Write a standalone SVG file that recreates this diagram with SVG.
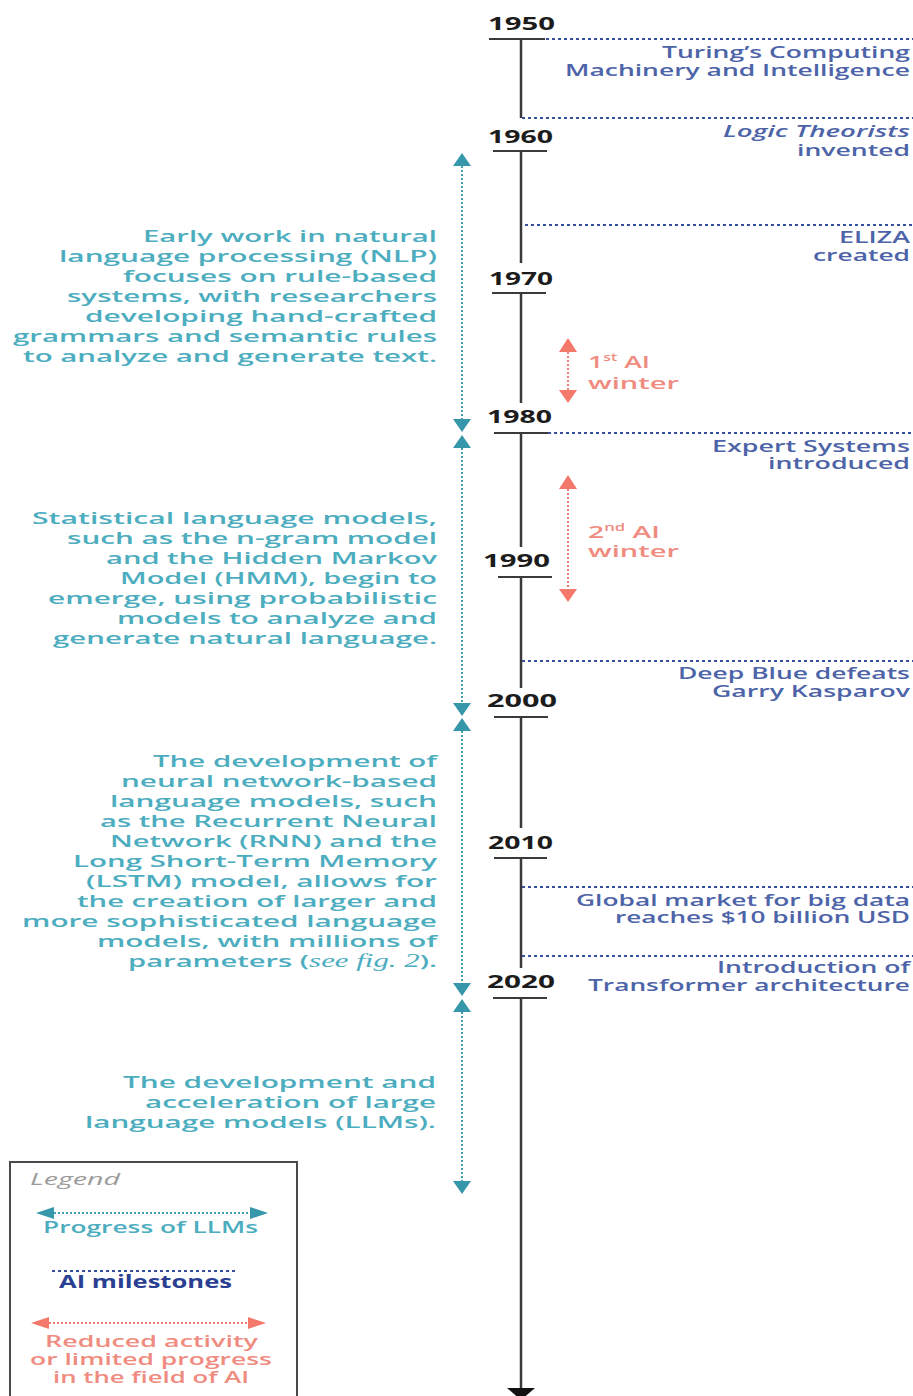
<svg xmlns="http://www.w3.org/2000/svg" width="913" height="1396" viewBox="0 0 913 1396">
<style>
text{font-family:'Open Sans','Liberation Sans',sans-serif}
.yr{font-size:17px;font-weight:700;fill:#1c1c1c}
.ms{font-size:16px;font-weight:600;fill:#4d64a8}
.tl{font-size:17px;font-weight:600;fill:#4cadbf}
.rd{font-size:17px;font-weight:600;fill:#f08b80}
.axis{stroke:#3a3a3a;stroke-width:2.5;fill:none}
.tick{stroke:#3a3a3a;stroke-width:2;fill:none}
.mline{stroke:#34509e;stroke-width:2;stroke-dasharray:3 3;fill:none}
.tline{stroke:#3d9fb1;stroke-width:2;stroke-dasharray:2 2;fill:none}
.rline{stroke:#f07a6c;stroke-width:2;stroke-dasharray:2 2;fill:none}
.thead{fill:#3597a9}
.rhead{fill:#f4796a}
</style>
<rect width="913" height="1396" fill="#ffffff"/>

<g id="axis">
<line class="axis" x1="521" y1="39" x2="521" y2="118"/>
<line class="axis" x1="521" y1="151" x2="521" y2="263"/>
<line class="axis" x1="521" y1="293" x2="521" y2="403"/>
<line class="axis" x1="521" y1="433" x2="521" y2="547"/>
<line class="axis" x1="521" y1="577" x2="521" y2="688"/>
<line class="axis" x1="521" y1="717" x2="521" y2="828"/>
<line class="axis" x1="521" y1="858" x2="521" y2="968"/>
<line class="axis" x1="521" y1="998" x2="521" y2="1388"/>
<polygon points="507,1388 535,1388 521,1400" fill="#111"/>
</g>

<g id="years">
<g id="y1950"><line class="tick" x1="489" y1="39" x2="545" y2="39"/><text class="yr" x="488" y="30" textLength="67" lengthAdjust="spacingAndGlyphs">1950</text></g>
<g id="y1960"><line class="tick" x1="493" y1="151" x2="547" y2="151"/><text class="yr" x="488" y="143" textLength="65" lengthAdjust="spacingAndGlyphs">1960</text></g>
<g id="y1970"><line class="tick" x1="492" y1="293" x2="546" y2="293"/><text class="yr" x="489" y="285" textLength="64" lengthAdjust="spacingAndGlyphs">1970</text></g>
<g id="y1980"><line class="tick" x1="494" y1="433" x2="548" y2="433"/><text class="yr" x="487" y="423" textLength="65" lengthAdjust="spacingAndGlyphs">1980</text></g>
<g id="y1990"><line class="tick" x1="498" y1="577" x2="552" y2="577"/><text class="yr" x="483" y="567" textLength="67" lengthAdjust="spacingAndGlyphs">1990</text></g>
<g id="y2000"><line class="tick" x1="494" y1="717" x2="548" y2="717"/><text class="yr" x="487" y="707" textLength="70" lengthAdjust="spacingAndGlyphs">2000</text></g>
<g id="y2010"><line class="tick" x1="494" y1="858" x2="547" y2="858"/><text class="yr" x="488" y="849" textLength="65" lengthAdjust="spacingAndGlyphs">2010</text></g>
<g id="y2020"><line class="tick" x1="493" y1="998" x2="547" y2="998"/><text class="yr" x="487" y="988" textLength="68" lengthAdjust="spacingAndGlyphs">2020</text></g>
</g>

<g id="connectors">
<line class="mline" x1="546" y1="39" x2="913" y2="39"/>
<line class="mline" x1="522" y1="118" x2="913" y2="118"/>
<line class="mline" x1="525" y1="225" x2="913" y2="225"/>
<line class="mline" x1="548" y1="433" x2="913" y2="433"/>
<line class="mline" x1="522" y1="661" x2="913" y2="661"/>
<line class="mline" x1="522" y1="887" x2="913" y2="887"/>
<line class="mline" x1="522" y1="956" x2="913" y2="956"/>

<line class="tline" x1="462" y1="166" x2="462" y2="419"/>
<polygon class="thead" points="462,153 471,166 453,166"/>
<polygon class="thead" points="462,432 471,419 453,419"/>
<line class="tline" x1="462" y1="448" x2="462" y2="703"/>
<polygon class="thead" points="462,435 471,448 453,448"/>
<polygon class="thead" points="462,716 471,703 453,703"/>
<line class="tline" x1="462" y1="731" x2="462" y2="983"/>
<polygon class="thead" points="462,718 471,731 453,731"/>
<polygon class="thead" points="462,996 471,983 453,983"/>
<line class="tline" x1="462" y1="1012" x2="462" y2="1181"/>
<polygon class="thead" points="462,999 471,1012 453,1012"/>
<polygon class="thead" points="462,1194 471,1181 453,1181"/>

<line class="rline" x1="568" y1="352" x2="568" y2="390"/>
<polygon class="rhead" points="568,338 577,352 559,352"/>
<polygon class="rhead" points="568,403 577,390 559,390"/>
<line class="rline" x1="568" y1="489" x2="568" y2="589"/>
<polygon class="rhead" points="568,475 577,489 559,489"/>
<polygon class="rhead" points="568,602 577,589 559,589"/>
</g>

<g id="milestones">
<g id="m-turing">
<text class="ms" x="662" y="58" textLength="248" lengthAdjust="spacingAndGlyphs">Turing’s Computing</text>
<text class="ms" x="565" y="76" textLength="345" lengthAdjust="spacingAndGlyphs">Machinery and Intelligence</text>
</g>
<g id="m-logic">
<text class="ms" x="723" y="137" textLength="187" lengthAdjust="spacingAndGlyphs" font-style="italic" font-weight="500">Logic Theorists</text>
<text class="ms" x="797" y="156" textLength="113" lengthAdjust="spacingAndGlyphs">invented</text>
</g>
<g id="m-eliza">
<text class="ms" x="839" y="243" textLength="71" lengthAdjust="spacingAndGlyphs">ELIZA</text>
<text class="ms" x="813" y="261" textLength="97" lengthAdjust="spacingAndGlyphs">created</text>
</g>
<g id="m-expert">
<text class="ms" x="712" y="452" textLength="198" lengthAdjust="spacingAndGlyphs">Expert Systems</text>
<text class="ms" x="768" y="469" textLength="142" lengthAdjust="spacingAndGlyphs">introduced</text>
</g>
<g id="m-deepblue">
<text class="ms" x="678" y="679" textLength="232" lengthAdjust="spacingAndGlyphs">Deep Blue defeats</text>
<text class="ms" x="712" y="697" textLength="198" lengthAdjust="spacingAndGlyphs">Garry Kasparov</text>
</g>
<g id="m-bigdata">
<text class="ms" x="576" y="906" textLength="334" lengthAdjust="spacingAndGlyphs">Global market for big data</text>
<text class="ms" x="615" y="923" textLength="295" lengthAdjust="spacingAndGlyphs">reaches $10 billion USD</text>
</g>
<g id="m-transformer">
<text class="ms" x="717" y="973" textLength="193" lengthAdjust="spacingAndGlyphs">Introduction of</text>
<text class="ms" x="588" y="991" textLength="322" lengthAdjust="spacingAndGlyphs">Transformer architecture</text>
</g>
</g>

<g id="winters">
<g id="w1">
<text class="rd" x="588" y="368" textLength="62" lengthAdjust="spacingAndGlyphs">1<tspan font-size="10" dy="-7">st</tspan><tspan dy="7"> AI</tspan></text>
<text class="rd" x="588" y="389" textLength="91" lengthAdjust="spacingAndGlyphs">winter</text>
</g>
<g id="w2">
<text class="rd" x="588" y="538" textLength="72" lengthAdjust="spacingAndGlyphs">2<tspan font-size="10" dy="-7">nd</tspan><tspan dy="7"> AI</tspan></text>
<text class="rd" x="588" y="557" textLength="91" lengthAdjust="spacingAndGlyphs">winter</text>
</g>
</g>

<g id="era1">
<text class="tl" x="143" y="242" textLength="294" lengthAdjust="spacingAndGlyphs">Early work in natural</text>
<text class="tl" x="59" y="262" textLength="378" lengthAdjust="spacingAndGlyphs">language processing (NLP)</text>
<text class="tl" x="123" y="282" textLength="314" lengthAdjust="spacingAndGlyphs">focuses on rule-based</text>
<text class="tl" x="67" y="302" textLength="370" lengthAdjust="spacingAndGlyphs">systems, with researchers</text>
<text class="tl" x="85" y="322" textLength="352" lengthAdjust="spacingAndGlyphs">developing hand-crafted</text>
<text class="tl" x="13" y="342" textLength="424" lengthAdjust="spacingAndGlyphs">grammars and semantic rules</text>
<text class="tl" x="23" y="362" textLength="414" lengthAdjust="spacingAndGlyphs">to analyze and generate text.</text>
</g>

<g id="era2">
<text class="tl" x="32" y="524" textLength="405" lengthAdjust="spacingAndGlyphs">Statistical language models,</text>
<text class="tl" x="67" y="544" textLength="370" lengthAdjust="spacingAndGlyphs">such as the n-gram model</text>
<text class="tl" x="106" y="564" textLength="331" lengthAdjust="spacingAndGlyphs">and the Hidden Markov</text>
<text class="tl" x="120" y="584" textLength="317" lengthAdjust="spacingAndGlyphs">Model (HMM), begin to</text>
<text class="tl" x="48" y="604" textLength="389" lengthAdjust="spacingAndGlyphs">emerge, using probabilistic</text>
<text class="tl" x="117" y="624" textLength="320" lengthAdjust="spacingAndGlyphs">models to analyze and</text>
<text class="tl" x="53" y="644" textLength="384" lengthAdjust="spacingAndGlyphs">generate natural language.</text>
</g>

<g id="era3">
<text class="tl" x="153" y="767" textLength="284" lengthAdjust="spacingAndGlyphs">The development of</text>
<text class="tl" x="121" y="787" textLength="316" lengthAdjust="spacingAndGlyphs">neural network-based</text>
<text class="tl" x="110" y="807" textLength="327" lengthAdjust="spacingAndGlyphs">language models, such</text>
<text class="tl" x="100" y="827" textLength="337" lengthAdjust="spacingAndGlyphs">as the Recurrent Neural</text>
<text class="tl" x="110" y="847" textLength="327" lengthAdjust="spacingAndGlyphs">Network (RNN) and the</text>
<text class="tl" x="73" y="867" textLength="364" lengthAdjust="spacingAndGlyphs">Long Short-Term Memory</text>
<text class="tl" x="86" y="887" textLength="351" lengthAdjust="spacingAndGlyphs">(LSTM) model, allows for</text>
<text class="tl" x="77" y="907" textLength="360" lengthAdjust="spacingAndGlyphs">the creation of larger and</text>
<text class="tl" x="22" y="927" textLength="415" lengthAdjust="spacingAndGlyphs">more sophisticated language</text>
<text class="tl" x="97" y="947" textLength="340" lengthAdjust="spacingAndGlyphs">models, with millions of</text>
<text class="tl" x="128" y="967" textLength="309" lengthAdjust="spacingAndGlyphs">parameters (<tspan font-family="'Liberation Serif',serif" font-style="italic" font-weight="400" font-size="18">see fig. 2</tspan>).</text>
</g>

<g id="era4">
<text class="tl" x="123" y="1088" textLength="313" lengthAdjust="spacingAndGlyphs">The development and</text>
<text class="tl" x="145" y="1108" textLength="291" lengthAdjust="spacingAndGlyphs">acceleration of large</text>
<text class="tl" x="85" y="1128" textLength="351" lengthAdjust="spacingAndGlyphs">language models (LLMs).</text>
</g>

<g id="legend">
<rect x="10" y="1162" width="287" height="250" fill="none" stroke="#4a4a4a" stroke-width="2"/>
<text x="30" y="1185" textLength="90" lengthAdjust="spacingAndGlyphs" font-size="16" font-style="italic" fill="#9c9c9c">Legend</text>
<line class="tline" x1="54" y1="1213" x2="250" y2="1213"/>
<polygon class="thead" points="36,1213 54,1207 54,1219"/>
<polygon class="thead" points="268,1213 250,1207 250,1219"/>
<text class="tl" x="43" y="1233" textLength="215" lengthAdjust="spacingAndGlyphs">Progress of LLMs</text>
<line class="mline" x1="52" y1="1271" x2="236" y2="1271"/>
<text x="59" y="1288" textLength="173" lengthAdjust="spacingAndGlyphs" font-size="17" font-weight="700" fill="#2b3f92">AI milestones</text>
<line class="rline" x1="49" y1="1323" x2="248" y2="1323"/>
<polygon class="rhead" points="31,1323 49,1317 49,1329"/>
<polygon class="rhead" points="266,1323 248,1317 248,1329"/>
<text class="rd" x="45" y="1347" textLength="213" lengthAdjust="spacingAndGlyphs">Reduced activity</text>
<text class="rd" x="30" y="1365" textLength="242" lengthAdjust="spacingAndGlyphs">or limited progress</text>
<text class="rd" x="53" y="1383" textLength="196" lengthAdjust="spacingAndGlyphs">in the field of AI</text>
</g>
</svg>
